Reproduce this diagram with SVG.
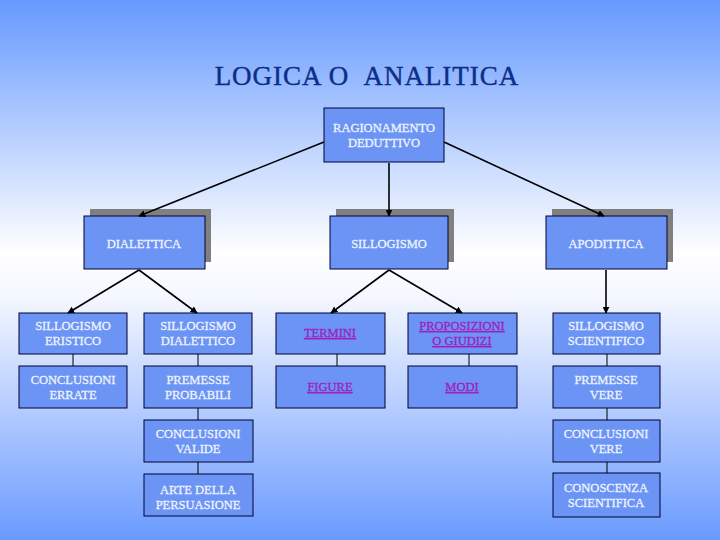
<svg xmlns="http://www.w3.org/2000/svg" width="720" height="540" viewBox="0 0 720 540">
<defs>
<linearGradient id="bg" x1="0" y1="0" x2="0" y2="1">
<stop offset="0" stop-color="#6699ff"/>
<stop offset="0.47" stop-color="#ffffff"/>
<stop offset="0.55" stop-color="#f4f7ff"/>
<stop offset="1" stop-color="#6a9aff"/>
</linearGradient>
<marker id="arr" viewBox="0 0 10 10" refX="9" refY="5" markerWidth="7" markerHeight="7" orient="auto" markerUnits="userSpaceOnUse">
<path d="M0,0 L10,5 L0,10 z" fill="#000"/>
</marker>
<style>
.box{fill:#6b94f4;stroke:#000033;stroke-width:1}
.sh{fill:#808080}
.t{font-family:"Liberation Serif","Times New Roman",serif;font-size:12.5px;fill:#eef3ff;stroke:#eef3ff;stroke-width:0.3;text-anchor:middle}
.lk{fill:#a020c0;stroke:#a020c0;text-decoration:underline}
.ln{stroke:#000;stroke-width:1.6;fill:none}
.lv{stroke:#000;stroke-width:1;fill:none}
</style>
</defs>
<rect width="720" height="540" fill="url(#bg)"/>
<text x="367" y="85" xml:space="preserve" font-family="Liberation Serif,Times New Roman,serif" font-size="27px" fill="#0c2e8a" stroke="#0c2e8a" stroke-width="0.4" text-anchor="middle" letter-spacing="1">LOGICA O  ANALITICA</text>

<g id="ragionamento">
<rect class="box" x="324" y="108" width="120" height="54"/>
<text class="t" x="384" y="132">RAGIONAMENTO</text>
<text class="t" x="384" y="147">DEDUTTIVO</text>
</g>

<g id="dialettica">
<rect class="sh" x="90" y="209" width="121" height="53"/>
<rect class="box" x="84" y="216" width="121" height="53"/>
<text class="t" x="144" y="248">DIALETTICA</text>
</g>
<g id="sillogismo">
<rect class="sh" x="336" y="209" width="118" height="53"/>
<rect class="box" x="330" y="216" width="118" height="53"/>
<text class="t" x="389" y="248">SILLOGISMO</text>
</g>
<g id="apodittica">
<rect class="sh" x="552" y="209" width="121" height="53"/>
<rect class="box" x="546" y="216" width="121" height="53"/>
<text class="t" x="606" y="248">APODITTICA</text>
</g>

<g id="eristico">
<rect class="box" x="19" y="313" width="108" height="41"/>
<text class="t" x="73" y="330">SILLOGISMO</text>
<text class="t" x="73" y="345">ERISTICO</text>
</g>
<g id="errate">
<rect class="box" x="19" y="366" width="108" height="42"/>
<text class="t" x="73" y="384">CONCLUSIONI</text>
<text class="t" x="73" y="399">ERRATE</text>
</g>
<g id="dialettico">
<rect class="box" x="144" y="313" width="108" height="41"/>
<text class="t" x="198" y="330">SILLOGISMO</text>
<text class="t" x="198" y="345">DIALETTICO</text>
</g>
<g id="probabili">
<rect class="box" x="144" y="366" width="108" height="42"/>
<text class="t" x="198" y="384">PREMESSE</text>
<text class="t" x="198" y="399">PROBABILI</text>
</g>
<g id="valide">
<rect class="box" x="144" y="420" width="109" height="42"/>
<text class="t" x="198" y="438">CONCLUSIONI</text>
<text class="t" x="198" y="453">VALIDE</text>
</g>
<g id="persuasione">
<rect class="box" x="144" y="474" width="109" height="42"/>
<text class="t" x="198" y="494">ARTE DELLA</text>
<text class="t" x="198" y="509">PERSUASIONE</text>
</g>

<g id="termini">
<rect class="box" x="276" y="313" width="109" height="41"/>
<text class="t lk" x="330" y="337">TERMINI</text>
</g>
<g id="figure">
<rect class="box" x="276" y="366" width="109" height="42"/>
<text class="t lk" x="330" y="391">FIGURE</text>
</g>
<g id="proposizioni">
<rect class="box" x="408" y="313" width="109" height="41"/>
<text class="t lk" x="462" y="330">PROPOSIZIONI</text>
<text class="t lk" x="462" y="345">O GIUDIZI</text>
</g>
<g id="modi">
<rect class="box" x="408" y="366" width="109" height="42"/>
<text class="t lk" x="462" y="391">MODI</text>
</g>

<g id="scientifico">
<rect class="box" x="553" y="313" width="107" height="41"/>
<text class="t" x="606" y="330">SILLOGISMO</text>
<text class="t" x="606" y="345">SCIENTIFICO</text>
</g>
<g id="vere">
<rect class="box" x="553" y="366" width="107" height="42"/>
<text class="t" x="606" y="384">PREMESSE</text>
<text class="t" x="606" y="399">VERE</text>
</g>
<g id="conclusioni-vere">
<rect class="box" x="553" y="420" width="107" height="42"/>
<text class="t" x="606" y="438">CONCLUSIONI</text>
<text class="t" x="606" y="453">VERE</text>
</g>
<g id="conoscenza">
<rect class="box" x="553" y="473" width="107" height="44"/>
<text class="t" x="606" y="492">CONOSCENZA</text>
<text class="t" x="606" y="507">SCIENTIFICA</text>
</g>

<g id="connectors">
<line class="ln" x1="324" y1="142" x2="139" y2="216" marker-end="url(#arr)"/>
<line class="ln" x1="389" y1="163" x2="389" y2="216" marker-end="url(#arr)"/>
<line class="ln" x1="444" y1="142" x2="604" y2="216" marker-end="url(#arr)"/>
<line class="ln" x1="139" y1="270" x2="68" y2="313" marker-end="url(#arr)"/>
<line class="ln" x1="139" y1="270" x2="197" y2="313" marker-end="url(#arr)"/>
<line class="ln" x1="389" y1="270" x2="331" y2="313" marker-end="url(#arr)"/>
<line class="ln" x1="389" y1="270" x2="462" y2="313" marker-end="url(#arr)"/>
<line class="ln" x1="606" y1="270" x2="606" y2="313" marker-end="url(#arr)"/>
<line class="lv" x1="73" y1="354" x2="73" y2="366"/>
<line class="lv" x1="198" y1="354" x2="198" y2="366"/>
<line class="lv" x1="198" y1="408" x2="198" y2="420"/>
<line class="lv" x1="198" y1="462" x2="198" y2="474"/>
<line class="lv" x1="337" y1="354" x2="337" y2="366"/>
<line class="lv" x1="469" y1="354" x2="469" y2="366"/>
<line class="lv" x1="607" y1="354" x2="607" y2="366"/>
<line class="lv" x1="607" y1="408" x2="607" y2="420"/>
<line class="lv" x1="607" y1="462" x2="607" y2="473"/>
</g>
</svg>
